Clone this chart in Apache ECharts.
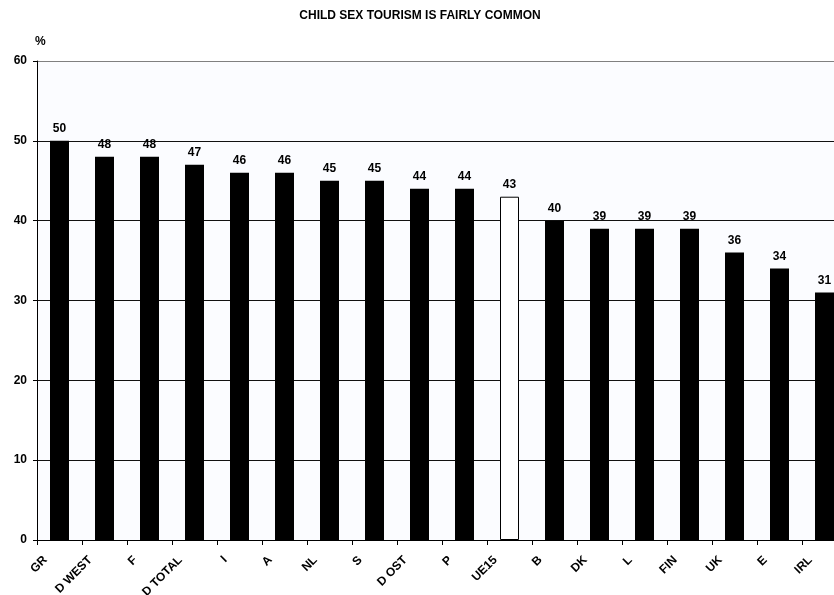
<!DOCTYPE html>
<html>
<head>
<meta charset="utf-8">
<script src="https://cdn.jsdelivr.net/npm/echarts@6/dist/echarts.min.js"></script>
<style>
  html, body { margin: 0; padding: 0; background: #ffffff; }
  #chart { width: 834px; height: 595px; }
</style>
</head>
<body>
<div id="chart"></div>
<script>
// Share of respondents (%) saying child sex tourism is fairly common
const countries = ['GR', 'D WEST', 'F', 'D TOTAL', 'I', 'A', 'NL', 'S', 'D OST', 'P', 'UE15', 'B', 'DK', 'L', 'FIN', 'UK', 'E', 'IRL'];
const shares = [50, 48, 48, 47, 46, 46, 45, 45, 44, 44, 43, 40, 39, 39, 39, 36, 34, 31];
const averageLabel = 'UE15';
const yTicks = { min: 0, max: 60, interval: 10 };

const FONT = 'Liberation Sans, Arial, sans-serif';

const barData = countries.map((c, i) => {
  const isAvg = c === averageLabel;
  return {
    value: shares[i],
    itemStyle: isAvg
      ? { color: '#ffffff', borderColor: '#000000', borderWidth: 1 }
      : { color: '#000000' }
  };
});

const chart = echarts.init(document.getElementById('chart'), null, { renderer: 'canvas' });

chart.setOption({
  animation: false,
  backgroundColor: '#ffffff',
  title: [
    {
      text: 'CHILD SEX TOURISM IS FAIRLY COMMON',
      left: 420, top: 10, textAlign: 'center', padding: 0,
      textStyle: { fontFamily: FONT, fontSize: 12, fontWeight: 'bold', color: '#000' }
    },
    {
      text: '%',
      left: 35, top: 36, padding: 0,
      textStyle: { fontFamily: FONT, fontSize: 12, fontWeight: 'bold', color: '#000' }
    }
  ],
  grid: {
    left: 37, top: 61, width: 810, height: 479,
    show: true, backgroundColor: '#fbfcff', borderWidth: 0,
    containLabel: false,
    outerBoundsMode: 'none'
  },
  xAxis: {
    type: 'category',
    data: countries,
    axisLine: { show: true, lineStyle: { color: '#000', width: 1 } },
    axisTick: { show: true, length: 5, lineStyle: { color: '#000' } },
    axisLabel: {
      rotate: 45, margin: 4, interval: 0,
      fontFamily: FONT, fontSize: 12, fontWeight: 'bold', color: '#000',
      padding: [0, 20, 0, 0]
    }
  },
  yAxis: {
    type: 'value',
    min: yTicks.min, max: yTicks.max, interval: yTicks.interval,
    axisLine: { show: true, lineStyle: { color: '#000', width: 1 } },
    axisTick: { show: true, length: 4, lineStyle: { color: '#000' } },
    axisLabel: {
      margin: 10,
      fontFamily: FONT, fontSize: 12, fontWeight: 'bold', color: '#000'
    },
    splitLine: {
      show: true,
      lineStyle: { color: ['#111', '#111', '#111', '#111', '#111', '#111', '#808080'], width: 1 }
    }
  },
  series: [{
    type: 'bar',
    data: barData,
    barWidth: 19,
    label: {
      show: true, position: 'top', distance: 6,
      fontFamily: FONT, fontSize: 12, fontWeight: 'bold', color: '#000'
    }
  }]
});
</script>
</body>
</html>
